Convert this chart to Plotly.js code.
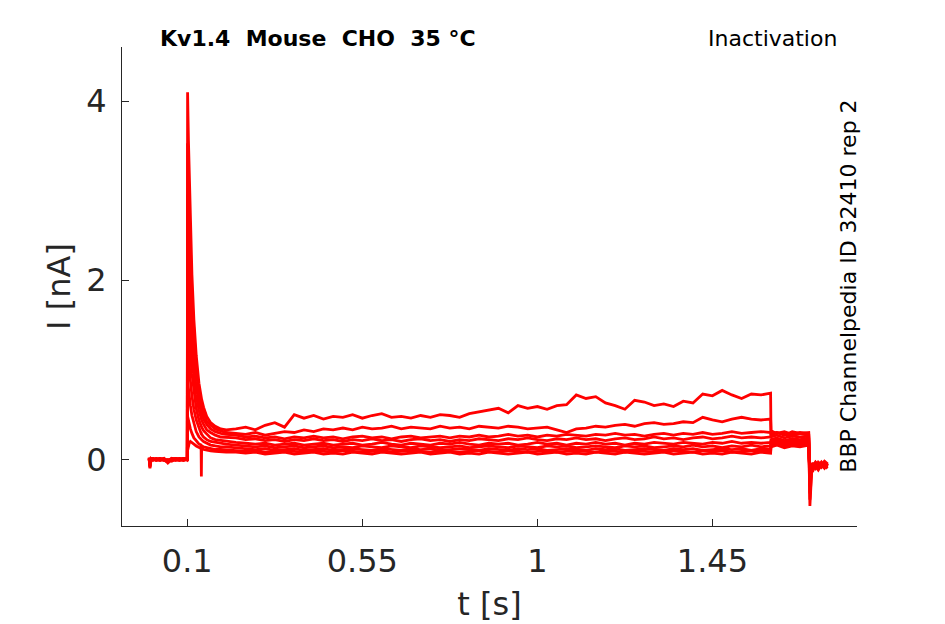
<!DOCTYPE html>
<html>
<head>
<meta charset="utf-8">
<script src="https://cdn.plot.ly/plotly-3.0.1.min.js"></script>
<style>html,body{margin:0;padding:0;background:#fff;}#chart{width:945px;height:624px;}</style>
</head>
<body>
<div id="chart"></div>
<script>
// time axis (s)
var timeS = [
  0.002,0.004,0.007,0.012,0.020,0.030,0.040,0.050,0.060,0.070,0.080,0.090,0.0995,
  0.1000,0.1008,0.1018,0.1030,0.1050,0.1080,0.1120,0.1170,0.1230,0.1300,0.1355,0.1362,0.1369,0.1420,0.1500,0.1600,0.1720,0.1860,0.2000,
  0.225,0.250,0.275,0.300,0.325,0.350,0.375,0.400,0.425,0.450,0.475,0.500,0.525,0.550,0.575,0.600,0.625,0.650,0.675,0.700,
  0.725,0.750,0.775,0.800,0.825,0.850,0.875,0.900,0.925,0.950,0.975,1.000,1.025,1.050,1.075,1.100,1.125,1.150,1.175,1.200,
  1.225,1.250,1.275,1.300,1.325,1.350,1.375,1.400,1.425,1.450,1.475,1.500,1.525,1.550,1.575,1.5995,
  1.6005,1.615,1.635,1.655,1.675,1.6975,
  1.6985,1.7005,1.7025,1.705,1.709,1.715,1.722,1.730,1.738,1.746
];

// current traces (nA)
var trace1 = [
  0.01,-0.08,0.00,0.01,-0.01,0.00,0.01,-0.03,0.00,0.01,-0.01,0.00,0.01,
  0.00,4.10,3.84,3.56,3.14,2.61,2.06,1.56,1.16,0.85,0.70,0.68,0.67,0.58,0.48,0.41,0.37,0.34,0.33,
  0.34,0.36,0.33,0.38,0.41,0.36,0.50,0.46,0.49,0.45,0.48,0.47,0.50,0.46,0.49,0.51,0.47,0.48,0.46,0.49,
  0.47,0.50,0.49,0.47,0.51,0.53,0.55,0.57,0.52,0.60,0.57,0.59,0.56,0.60,0.61,0.72,0.68,0.70,0.63,0.60,
  0.56,0.66,0.64,0.60,0.62,0.59,0.65,0.63,0.73,0.71,0.77,0.72,0.68,0.73,0.72,0.74,
  0.28,0.30,0.27,0.31,0.29,0.30,
  0.00,-0.45,-0.30,-0.12,-0.05,-0.08,-0.03,-0.06,-0.02,-0.05
];
var trace2 = [
  0.00,-0.06,0.01,-0.01,0.00,0.01,-0.01,0.00,-0.02,0.00,0.01,-0.01,0.00,
  0.01,3.53,3.31,3.07,2.71,2.26,1.79,1.36,1.01,0.75,0.62,0.61,0.59,0.51,0.43,0.38,0.34,0.32,0.30,
  0.29,0.28,0.30,0.27,0.29,0.31,0.30,0.33,0.31,0.34,0.33,0.35,0.33,0.36,0.34,0.35,0.37,0.34,0.36,0.35,
  0.34,0.37,0.35,0.36,0.34,0.37,0.36,0.35,0.37,0.36,0.34,0.35,0.36,0.33,0.30,0.34,0.35,0.37,0.36,0.38,
  0.39,0.37,0.40,0.41,0.39,0.40,0.42,0.41,0.47,0.44,0.42,0.45,0.47,0.45,0.44,0.45,
  0.32,0.29,0.31,0.28,0.30,0.29,
  -0.02,-0.28,-0.15,-0.06,-0.10,-0.04,-0.07,-0.03,-0.08,-0.04
];
var trace3 = [
  0.02,-0.10,0.00,0.00,0.01,-0.01,0.00,-0.02,0.01,-0.01,0.00,0.01,0.00,
  0.00,2.96,2.78,2.58,2.28,1.90,1.51,1.15,0.87,0.65,0.54,0.53,0.52,0.45,0.39,0.34,0.31,0.29,0.28,
  0.27,0.25,0.26,0.24,0.25,0.23,0.25,0.24,0.26,0.24,0.25,0.23,0.25,0.26,0.24,0.25,0.23,0.25,0.26,0.24,
  0.25,0.26,0.24,0.26,0.25,0.27,0.25,0.26,0.28,0.26,0.27,0.25,0.27,0.26,0.28,0.27,0.26,0.28,0.27,0.29,
  0.27,0.28,0.26,0.28,0.29,0.27,0.29,0.28,0.30,0.28,0.29,0.31,0.29,0.30,0.31,0.30,
  0.27,0.30,0.28,0.26,0.29,0.27,
  0.01,-0.52,-0.35,-0.14,-0.06,-0.09,-0.05,-0.08,-0.04,-0.07
];
var trace4 = [
  0.01,-0.05,-0.01,0.01,0.00,-0.01,0.01,-0.04,0.00,0.00,-0.01,0.00,0.01,
  0.00,2.40,2.25,2.09,1.85,1.55,1.24,0.95,0.72,0.55,0.46,0.45,0.44,0.39,0.33,0.30,0.27,0.25,0.245,
  0.24,0.22,0.23,0.21,0.22,0.20,0.22,0.21,0.23,0.21,0.22,0.20,0.22,0.21,0.23,0.21,0.22,0.20,0.22,0.23,
  0.21,0.22,0.20,0.22,0.21,0.23,0.22,0.21,0.23,0.22,0.24,0.22,0.21,0.23,0.22,0.24,0.22,0.23,0.21,0.23,
  0.24,0.22,0.23,0.25,0.23,0.24,0.22,0.24,0.25,0.23,0.24,0.26,0.24,0.25,0.24,0.25,
  0.25,0.27,0.24,0.26,0.25,0.26,
  0.00,-0.38,-0.22,-0.10,-0.12,-0.06,-0.09,-0.05,-0.07,-0.10
];
var trace5 = [
  0.00,-0.07,0.01,0.00,-0.01,0.01,0.00,-0.01,0.01,-0.01,0.00,0.01,-0.01,
  0.00,1.84,1.73,1.61,1.43,1.20,0.96,0.75,0.57,0.44,0.37,0.36,0.36,0.32,0.28,0.24,0.22,0.21,0.20,
  0.19,0.18,0.17,0.18,0.16,0.17,0.18,0.16,0.17,0.18,0.16,0.17,0.18,0.16,0.17,0.19,0.17,0.16,0.18,0.17,
  0.16,0.18,0.17,0.19,0.17,0.16,0.18,0.17,0.18,0.16,0.17,0.19,0.17,0.18,0.16,0.18,0.17,0.19,0.17,0.18,
  0.16,0.18,0.17,0.19,0.18,0.17,0.19,0.18,0.17,0.19,0.18,0.20,0.18,0.19,0.18,0.19,
  0.22,0.24,0.21,0.23,0.22,0.24,
  -0.01,-0.22,-0.16,-0.08,-0.05,-0.10,-0.06,-0.04,-0.09,-0.05
];
var trace6 = [
  0.01,-0.04,0.00,-0.01,0.01,0.00,-0.01,-0.03,0.00,0.01,0.00,-0.01,0.00,
  0.00,1.33,1.25,1.17,1.04,0.88,0.71,0.56,0.44,0.34,0.29,0.29,0.28,0.25,0.22,0.20,0.19,0.175,0.17,
  0.16,0.15,0.14,0.15,0.13,0.14,0.15,0.13,0.14,0.15,0.13,0.14,0.13,0.15,0.14,0.13,0.15,0.14,0.13,0.15,
  0.14,0.13,0.14,0.15,0.13,0.14,0.15,0.14,0.13,0.15,0.14,0.13,0.15,0.14,0.15,0.13,0.14,0.15,0.14,0.13,
  0.15,0.14,0.15,0.13,0.14,0.15,0.14,0.16,0.14,0.15,0.13,0.15,0.14,0.16,0.14,0.15,
  0.20,0.22,0.19,0.21,0.20,0.22,
  0.00,-0.18,-0.10,-0.04,-0.08,-0.03,-0.06,-0.09,-0.04,-0.06
];
var trace7 = [
  0.00,-0.09,0.01,0.00,0.00,-0.01,0.01,-0.02,-0.01,0.00,0.01,0.00,0.00,
  0.00,0.88,0.83,0.78,0.70,0.60,0.49,0.40,0.31,0.25,0.22,0.22,0.22,0.20,0.18,0.16,0.15,0.14,0.14,
  0.13,0.12,0.11,0.12,0.10,0.11,0.12,0.10,0.11,0.12,0.10,0.11,0.12,0.11,0.10,0.12,0.11,0.10,0.12,0.11,
  0.12,0.10,0.11,0.12,0.11,0.10,0.12,0.11,0.10,0.12,0.11,0.12,0.10,0.11,0.12,0.11,0.10,0.12,0.11,0.12,
  0.10,0.11,0.12,0.11,0.10,0.12,0.11,0.12,0.10,0.11,0.12,0.11,0.12,0.10,0.12,0.11,
  0.18,0.20,0.17,0.19,0.18,0.20,
  -0.02,-0.14,-0.08,-0.11,-0.05,-0.08,-0.12,-0.06,-0.09,-0.07
];
var trace8 = [
  0.02,-0.06,0.00,0.01,-0.01,0.00,0.00,-0.03,0.01,0.00,-0.01,0.01,0.00,
  0.00,0.48,0.46,0.43,0.39,0.34,0.29,0.24,0.21,0.17,0.16,-0.19,0.15,0.14,0.13,0.12,0.11,0.11,0.105,
  0.10,0.09,0.10,0.08,0.09,0.10,0.09,0.08,0.10,0.09,0.08,0.10,0.09,0.08,0.09,0.10,0.08,0.09,0.10,0.09,
  0.08,0.10,0.09,0.08,0.09,0.10,0.09,0.08,0.10,0.09,0.08,0.09,0.10,0.08,0.09,0.10,0.09,0.08,0.10,0.09,
  0.08,0.10,0.09,0.08,0.09,0.10,0.09,0.08,0.10,0.09,0.10,0.08,0.09,0.10,0.09,0.09,
  0.16,0.18,0.15,0.17,0.16,0.18,
  -0.01,-0.10,-0.06,-0.09,-0.04,-0.07,-0.11,-0.05,-0.08,-0.06
];
var trace9 = [
  0.01,-0.05,0.01,0.00,0.00,0.01,-0.01,-0.02,0.00,0.01,0.00,-0.01,0.01,
  0.00,0.10,0.13,0.15,0.18,0.20,0.19,0.17,0.15,0.13,0.12,0.12,0.12,0.11,0.10,0.095,0.09,0.085,0.08,
  0.08,0.07,0.08,0.06,0.07,0.08,0.06,0.07,0.08,0.06,0.07,0.06,0.08,0.07,0.06,0.08,0.07,0.06,0.07,0.08,
  0.06,0.07,0.08,0.06,0.07,0.06,0.08,0.07,0.06,0.07,0.08,0.06,0.07,0.08,0.06,0.07,0.06,0.08,0.07,0.06,
  0.08,0.07,0.06,0.07,0.08,0.06,0.07,0.08,0.06,0.07,0.06,0.08,0.07,0.06,0.08,0.07,
  0.14,0.16,0.13,0.15,0.14,0.16,
  0.01,-0.07,-0.12,-0.05,-0.08,-0.04,-0.09,-0.06,-0.10,-0.05
];

var xTickVals = [0.1, 0.55, 1, 1.45];
var xTickText = ['0.1', '0.55', '1', '1.45'];
var yTickVals = [0, 2, 4];
var yTickText = ['0', '2', '4'];

var allTraces = [trace1, trace2, trace3, trace4, trace5, trace6, trace7, trace8, trace9];

var data = allTraces.map(function (ys) {
  return {
    x: timeS, y: ys, type: 'scatter', mode: 'lines',
    line: {color: '#ff0000', width: 2.8}, hoverinfo: 'skip', showlegend: false
  };
});

var axisColor = '#262626';
var font = 'DejaVu Sans, sans-serif';

var layout = {
  width: 945, height: 624,
  margin: {l: 122, r: 88, t: 47, b: 98, pad: 0},
  paper_bgcolor: '#ffffff', plot_bgcolor: '#ffffff',
  showlegend: false,
  font: {family: font, color: axisColor},
  xaxis: {
    range: [-0.0678, 1.8216],
    tickmode: 'array', tickvals: xTickVals, ticktext: xTickText,
    ticks: 'inside', ticklen: 7, tickwidth: 1, tickcolor: axisColor,
    showline: true, linecolor: axisColor, linewidth: 1,
    showgrid: false, zeroline: false,
    tickfont: {family: font, size: 32, color: axisColor},
    ticklabelstandoff: 7,
    title: {text: 't [s]', font: {family: font, size: 32, color: axisColor}, standoff: 13}
  },
  yaxis: {
    range: [-0.744, 4.605],
    tickmode: 'array', tickvals: yTickVals, ticktext: yTickText,
    ticks: 'inside', ticklen: 7, tickwidth: 1, tickcolor: axisColor,
    showline: true, linecolor: axisColor, linewidth: 1,
    showgrid: false, zeroline: false,
    tickfont: {family: font, size: 32, color: axisColor},
    ticklabelstandoff: 8,
    title: {text: 'I [nA]', font: {family: font, size: 32, color: axisColor}, standoff: 6}
  },
  annotations: [
    {xref: 'paper', yref: 'paper', x: 0.266, y: 1, xanchor: 'center', yanchor: 'bottom', yshift: -6,
     showarrow: false, text: '<b>Kv1.4\u00a0\u00a0Mouse\u00a0\u00a0CHO\u00a0\u00a035 °C</b>',
     font: {family: font, size: 22, color: '#000000'}},
    {xref: 'paper', yref: 'paper', x: 0.976, y: 1, xanchor: 'right', yanchor: 'bottom', yshift: -6,
     showarrow: false, text: 'Inactivation',
     font: {family: font, size: 22, color: '#000000'}},
    {xref: 'paper', yref: 'paper', x: 0.988, y: 0.5, xanchor: 'center', yanchor: 'middle', textangle: -90,
     showarrow: false, text: 'BBP Channelpedia ID 32410 rep 2',
     font: {family: font, size: 22, color: '#000000'}}
  ]
};

Plotly.newPlot('chart', data, layout, {staticPlot: true, displayModeBar: false});
</script>
</body>
</html>
